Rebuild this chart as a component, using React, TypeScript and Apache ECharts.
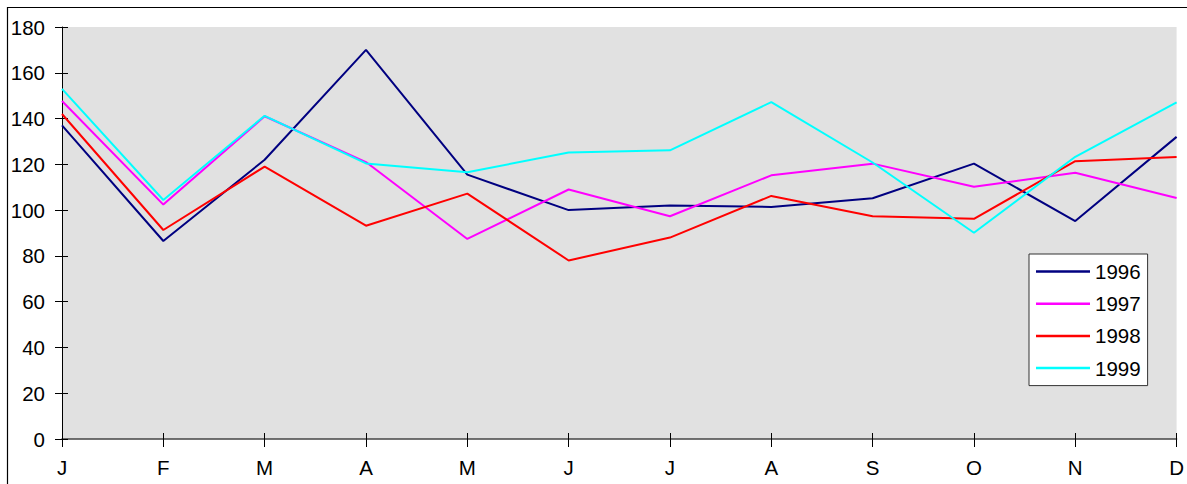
import React, { useEffect, useRef } from "react";
import * as echarts from "echarts";

const months = ["J", "F", "M", "A", "M", "J", "J", "A", "S", "O", "N", "D"];
const seriesNames = ["1996", "1997", "1998", "1999"];
const values1996 = [137, 86.5, 122, 170, 115.5, 100, 102, 101.4, 105.2, 120.3, 95.2, 132];
const values1997 = [147.7, 102.4, 141, 121, 87.4, 109, 97.3, 115.2, 120.3, 110.2, 116.3, 105.3];
const values1998 = [142, 91.3, 119, 93.2, 107.2, 78, 88, 106.2, 97.3, 96.2, 121.4, 123.2];
const values1999 = [153, 104.4, 141.2, 120.4, 116.5, 125.2, 126.1, 147.2, 120.8, 90.1, 123.3, 147.1];
const seriesColors = ["#000080", "#ff00ff", "#ff0000", "#00ffff"];
const yMin = 0;
const yMax = 180;
const yStep = 20;

export default function App() {
  const ref = useRef<HTMLDivElement>(null);
  useEffect(() => {
    if (!ref.current) return;
    const chart = echarts.init(ref.current, undefined, { renderer: "svg" });
    const allValues = [values1996, values1997, values1998, values1999];
    const font = "'Liberation Sans', Arial, sans-serif";
    const fs = 20.5;
    chart.setOption({
      animation: false,
      backgroundColor: "#ffffff",
      textStyle: { fontFamily: font },
      graphic: [
        {
          type: "rect",
          shape: { x: 7.5, y: 7.5, width: 1200, height: 500 },
          style: { fill: "none", stroke: "#000000", lineWidth: 1.2 },
          silent: true,
          z: -10,
        },
      ],
      grid: {
        left: 62,
        right: 10,
        top: 27,
        bottom: 45,
        show: true,
        backgroundColor: "#e1e1e1",
        borderWidth: 0,
      },
      legend: {
        orient: "vertical",
        left: 1029,
        top: 254,
        backgroundColor: "#ffffff",
        borderColor: "#333333",
        borderWidth: 1,
        borderRadius: 0,
        padding: [7, 7, 7, 7],
        itemWidth: 54,
        itemHeight: 2.5,
        itemGap: 11.2,
        icon: "rect",
        data: seriesNames,
        textStyle: { fontSize: fs, color: "#000000", fontFamily: font },
      },
      xAxis: [
        {
          type: "category",
          data: months,
          boundaryGap: false,
          position: "bottom",
          axisLine: { show: true, lineStyle: { color: "#444444", width: 1.5 } },
          axisTick: { show: true, length: 8, lineStyle: { color: "#000000" } },
          axisLabel: { fontSize: fs, color: "#000000", margin: 18, fontFamily: font },
          splitLine: { show: false },
        },
        {
          type: "category",
          data: months,
          boundaryGap: false,
          position: "bottom",
          axisLine: { show: false },
          axisTick: { show: true, inside: true, length: 6, lineStyle: { color: "#000000" } },
          axisLabel: { show: false },
          splitLine: { show: false },
        },
      ],
      yAxis: [
        {
          type: "value",
          min: yMin,
          max: yMax,
          interval: yStep,
          position: "left",
          axisLine: { show: true, lineStyle: { color: "#000000", width: 1 } },
          axisTick: { show: true, length: 7, lineStyle: { color: "#000000" } },
          axisLabel: { fontSize: fs, color: "#000000", margin: 17, fontFamily: font },
          splitLine: { show: false },
        },
        {
          type: "value",
          min: yMin,
          max: yMax,
          interval: yStep,
          position: "left",
          axisLine: { show: false },
          axisTick: { show: true, inside: true, length: 6, lineStyle: { color: "#000000" } },
          axisLabel: { show: false },
          splitLine: { show: false },
        },
      ],
      series: seriesNames.map((name, i) => ({
        name,
        type: "line",
        data: allValues[i],
        xAxisIndex: 0,
        yAxisIndex: 0,
        symbol: "none",
        showSymbol: false,
        color: seriesColors[i],
        lineStyle: { color: seriesColors[i], width: 2 },
        itemStyle: { color: seriesColors[i] },
      })),
    });
    return () => chart.dispose();
  }, []);
  return (
    <div
      ref={ref}
      style={{ position: "fixed", left: 0, top: 0, width: 1187, height: 484 }}
    />
  );
}
